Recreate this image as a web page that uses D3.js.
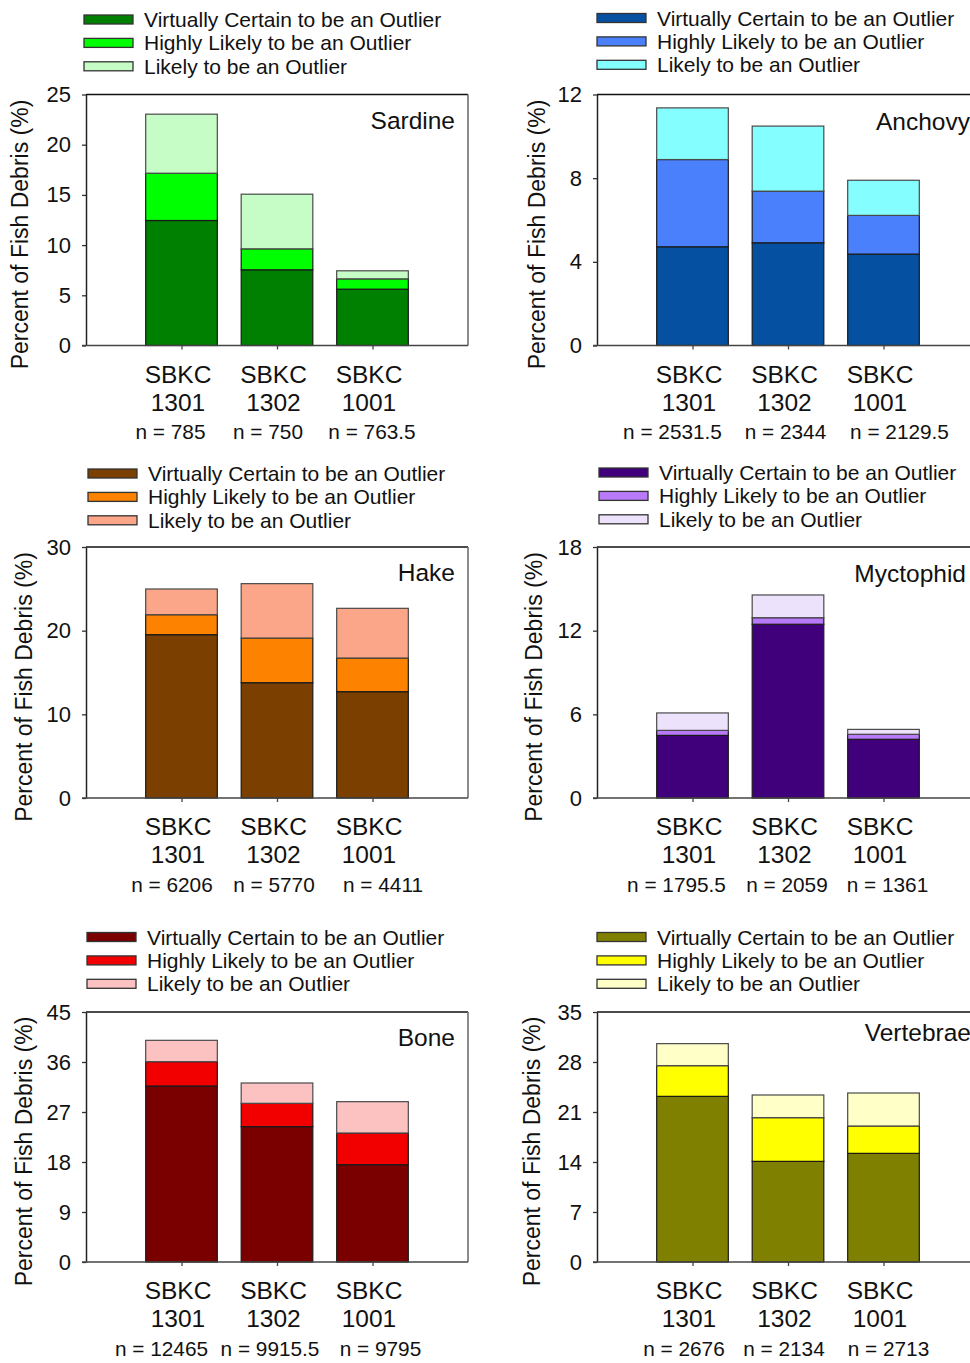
<!DOCTYPE html>
<html>
<head>
<meta charset="utf-8">
<script src="https://cdn.jsdelivr.net/npm/d3@7"></script>
<style>
  body { margin: 0; background: #fff; }
  svg { display: block; font-family: "Liberation Sans", Arial, sans-serif; }
</style>
</head>
<body>
<svg id="chart" width="970" height="1363"></svg>
<script>
// Sampling sites (drawn as "SBKC" over the core number)
const sites = ["1301", "1302", "1001"];
const outlierClasses = [
  "Virtually Certain to be an Outlier",
  "Highly Likely to be an Outlier",
  "Likely to be an Outlier"
];

// Percent of fish debris per site, one array per outlier class
const sardineCertain = [12.45, 7.54, 5.61];
const sardineHighly  = [4.71, 2.09, 1.03];
const sardineLikely  = [5.88, 5.44, 0.80];
const sardineN       = ["785", "750", "763.5"];
const sardineTicks   = [0, 5, 10, 15, 20, 25];

const anchovyCertain = [4.72, 4.91, 4.37];
const anchovyHighly  = [4.17, 2.47, 1.85];
const anchovyLikely  = [2.47, 3.11, 1.68];
const anchovyN       = ["2531.5", "2344", "2129.5"];
const anchovyTicks   = [0, 4, 8, 12];

const hakeCertain = [19.52, 13.78, 12.71];
const hakeHighly  = [2.39, 5.34, 4.02];
const hakeLikely  = [3.07, 6.50, 5.94];
const hakeN       = ["6206", "5770", "4411"];
const hakeTicks   = [0, 10, 20, 30];

const myctophidCertain = [4.49, 12.46, 4.21];
const myctophidHighly  = [0.36, 0.47, 0.36];
const myctophidLikely  = [1.25, 1.63, 0.35];
const myctophidN       = ["1795.5", "2059", "1361"];
const myctophidTicks   = [0, 6, 12, 18];

const boneCertain = [31.68, 24.36, 17.52];
const boneHighly  = [4.38, 4.20, 5.70];
const boneLikely  = [3.84, 3.66, 5.64];
const boneN       = ["12465", "9915.5", "9795"];
const boneTicks   = [0, 9, 18, 27, 36, 45];

const vertebraeCertain = [23.19, 14.09, 15.21];
const vertebraeHighly  = [4.30, 6.12, 3.83];
const vertebraeLikely  = [3.08, 3.17, 4.62];
const vertebraeN       = ["2676", "2134", "2713"];
const vertebraeTicks   = [0, 7, 14, 21, 28, 35];

// Panel set-up: data references plus placement and palette
const panels = [
  { name: "Sardine", certain: sardineCertain, highly: sardineHighly, likely: sardineLikely,
    n: sardineN, ticks: sardineTicks, colors: ["#008000", "#00ff00", "#c6fcc6"],
    box: { x: 86, y: 94.5, h: 251 }, legendDx: -2, legendDy: -75, titleDx: -57.6, nameDy: 34,
    nameInset: 13, nDx: [-11, -9, -0.5] },
  { name: "Anchovy", certain: anchovyCertain, highly: anchovyHighly, likely: anchovyLikely,
    n: anchovyN, ticks: anchovyTicks, colors: ["#0550a0", "#4a80fc", "#84fefe"],
    box: { x: 597, y: 94.5, h: 251 }, legendDx: 0, legendDy: -76.5, titleDx: -52.5, nameDy: 35,
    nameInset: 9, nDx: [-20, -2.5, 16] },
  { name: "Hake", certain: hakeCertain, highly: hakeHighly, likely: hakeLikely,
    n: hakeN, ticks: hakeTicks, colors: ["#7b4000", "#fc8200", "#fba688"],
    box: { x: 86, y: 547, h: 251 }, legendDx: 2, legendDy: -73.5, titleDx: -54.1, nameDy: 34.3,
    nameInset: 13, nDx: [-9.5, -3, 10.5] },
  { name: "Myctophid", certain: myctophidCertain, highly: myctophidHighly, likely: myctophidLikely,
    n: myctophidN, ticks: myctophidTicks, colors: ["#40007c", "#b87af8", "#ede2fc"],
    box: { x: 597, y: 547, h: 251 }, legendDx: 2, legendDy: -74.5, titleDx: -55, nameDy: 35,
    nameInset: 13, nDx: [-16, -1, 4] },
  { name: "Bone", certain: boneCertain, highly: boneHighly, likely: boneLikely,
    n: boneN, ticks: boneTicks, colors: ["#7a0000", "#f20000", "#fcc2c2"],
    box: { x: 86, y: 1012, h: 250 }, legendDx: 1, legendDy: -75, titleDx: -54.1, nameDy: 34.3,
    nameInset: 13, nDx: [-20, -7, 8] },
  { name: "Vertebrae", certain: vertebraeCertain, highly: vertebraeHighly, likely: vertebraeLikely,
    n: vertebraeN, ticks: vertebraeTicks, colors: ["#808000", "#ffff00", "#ffffc8"],
    box: { x: 597, y: 1012, h: 250 }, legendDx: 0, legendDy: -75, titleDx: -56.6, nameDy: 28.5,
    nameInset: 8, nDx: [-8.5, -4, 5] }
];

const W = 382;          // frame width of every panel
const barUnits = 0.75;  // bar width in category units
const keys = ["certain", "highly", "likely"];
const svg = d3.select("#chart");

panels.forEach(p => {
  const h = p.box.h;
  const g = svg.append("g").attr("transform", `translate(${p.box.x},${p.box.y})`);

  const x = d3.scaleLinear().domain([0, sites.length + 1]).range([0, W]);
  const y = d3.scaleLinear().domain([0, d3.max(p.ticks)]).range([h, 0]);

  const rows = sites.map((s, i) => ({ site: s, pos: i + 1,
    certain: p.certain[i], highly: p.highly[i], likely: p.likely[i] }));
  const series = d3.stack().keys(keys)(rows);

  // frame: top and right borders
  g.append("line").attr("x1", 0).attr("x2", W).attr("y1", 0).attr("y2", 0)
    .attr("stroke", "#111").attr("stroke-width", 1.6);
  g.append("line").attr("x1", W).attr("x2", W).attr("y1", 0).attr("y2", h)
    .attr("stroke", "#666").attr("stroke-width", 1.5);

  // stacked bars
  series.forEach((s, k) => {
    g.append("g").selectAll("rect").data(s).join("rect")
      .attr("x", d => x(d.data.pos - barUnits / 2))
      .attr("width", d => x(d.data.pos + barUnits / 2) - x(d.data.pos - barUnits / 2))
      .attr("y", d => y(d[1]))
      .attr("height", d => y(d[0]) - y(d[1]))
      .attr("fill", p.colors[k])
      .attr("stroke", k === 2 ? "#4a4a4a" : "#1a1a1a")
      .attr("stroke-width", 1.2);
  });

  // y axis
  const yAxis = g.append("g")
    .call(d3.axisLeft(y).tickValues(p.ticks).tickSize(4).tickSizeOuter(0).tickPadding(11));
  yAxis.select(".domain").attr("stroke", "#222").attr("stroke-width", 1.5);
  yAxis.selectAll(".tick line").attr("stroke", "#333").attr("stroke-width", 1.3);
  yAxis.selectAll(".tick text").attr("font-size", 22).attr("fill", "#111")
    .attr("font-family", "Liberation Sans, Arial, sans-serif");

  // x axis (ticks only; labels set below)
  const xAxis = g.append("g").attr("transform", `translate(0,${h})`)
    .call(d3.axisBottom(x).tickValues(rows.map(r => r.pos)).tickFormat("").tickSize(4).tickSizeOuter(0));
  xAxis.select(".domain").attr("stroke", "#444").attr("stroke-width", 1.5)
    .attr("d", `M-4,0H${W}`);
  xAxis.selectAll(".tick line").attr("stroke", "#444").attr("stroke-width", 1.3);

  // category labels
  const lab = g.append("g").attr("fill", "#111");
  rows.forEach((r, i) => {
    lab.append("text").attr("x", x(r.pos) - 3.5).attr("y", h + 37)
      .attr("text-anchor", "middle").attr("font-size", 24.5).text("SBKC");
    lab.append("text").attr("x", x(r.pos) - 3.5).attr("y", h + 65)
      .attr("text-anchor", "middle").attr("font-size", 24.5).text(r.site);
    lab.append("text").attr("x", x(r.pos) + p.nDx[i]).attr("y", h + 93.5)
      .attr("text-anchor", "middle").attr("font-size", 20.8).text("n = " + p.n[i]);
  });

  // panel name
  g.append("text").attr("x", W - p.nameInset).attr("y", p.nameDy)
    .attr("text-anchor", "end").attr("font-size", 24.5).attr("fill", "#111").text(p.name);

  // y axis title
  g.append("text")
    .attr("transform", `translate(${p.titleDx},${h / 2 + 14.5}) rotate(-90)`)
    .attr("text-anchor", "middle").attr("font-size", 23).attr("fill", "#111")
    .text("Percent of Fish Debris (%)");

  // legend
  const leg = g.append("g").attr("transform", `translate(${p.legendDx},${p.legendDy})`);
  outlierClasses.forEach((c, k) => {
    leg.append("rect").attr("x", 0).attr("y", k * 23.4 - 4.5).attr("width", 49).attr("height", 9)
      .attr("fill", p.colors[k]).attr("stroke", "#333").attr("stroke-width", 1.3);
    leg.append("text").attr("x", 60).attr("y", k * 23.4 + 7.5)
      .attr("font-size", 21).attr("fill", "#111").text(c);
  });
});
</script>
</body>
</html>
